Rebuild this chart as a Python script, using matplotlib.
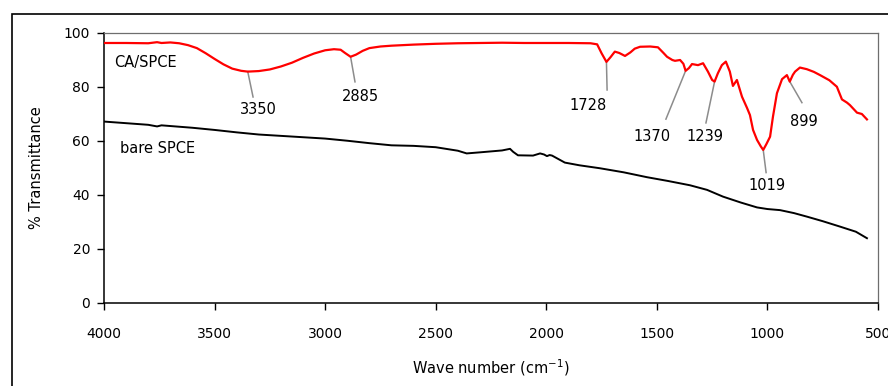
import numpy as np
import matplotlib.pyplot as plt
from matplotlib.patches import Rectangle

# FTIR spectra (wave number in cm-1, % transmittance)
ca_wn = [4000, 3900, 3800, 3760, 3740, 3700, 3660, 3620, 3580, 3540, 3500, 3460,
         3420, 3380, 3350, 3300, 3250, 3200, 3150, 3100, 3050, 3000, 2960, 2930,
         2910, 2885, 2860, 2830, 2800, 2750, 2700, 2600, 2500, 2400, 2300, 2200,
         2100, 2000, 1900, 1800, 1770, 1750, 1728, 1710, 1690, 1670, 1644, 1620,
         1600, 1576, 1530, 1495, 1470, 1454, 1430, 1418, 1395, 1380, 1370, 1355,
         1341, 1314, 1291, 1269, 1250, 1239, 1224, 1206, 1188, 1170, 1156, 1138,
         1115, 1092, 1079, 1065, 1047, 1030, 1019, 1005, 988, 975, 957, 934, 912,
         899, 885, 875, 853, 822, 790, 762, 720, 686, 663, 640, 627, 595, 573, 550]
ca_t = [96.3, 96.3, 96.2, 96.6, 96.3, 96.5, 96.2, 95.5, 94.4, 92.5, 90.4, 88.4,
        86.8, 86.0, 85.7, 85.9, 86.5, 87.6, 89.0, 90.8, 92.4, 93.6, 94.0, 93.8,
        92.6, 91.2, 92.0, 93.4, 94.4, 95.0, 95.3, 95.7, 96.0, 96.2, 96.3, 96.4,
        96.3, 96.3, 96.3, 96.2, 95.8, 92.5, 89.3, 91.0, 93.1, 92.6, 91.5, 92.8,
        94.2, 94.9, 95.0, 94.7, 92.6, 91.2, 90.0, 89.7, 90.0, 88.6, 86.0, 87.0,
        88.5, 88.1, 88.8, 85.7, 82.6, 82.0, 85.1, 88.1, 89.4, 85.7, 80.4, 82.6,
        76.4, 72.2, 69.6, 64.1, 60.4, 58.0, 56.7, 58.8, 61.6, 69.0, 77.7, 82.9, 84.4,
        82.0, 84.5, 85.7, 87.2, 86.6, 85.6, 84.4, 82.5, 80.1, 75.4, 74.2, 73.3, 70.5, 70.0, 68.0]

bare_wn = [4000, 3900, 3800, 3760, 3740, 3600, 3500, 3400, 3300, 3200, 3100, 3000,
           2900, 2800, 2700, 2600, 2500, 2400, 2360, 2300, 2200, 2164, 2150, 2128,
           2060, 2028, 2010, 1997, 1985, 1974, 1916, 1850, 1757, 1650, 1545, 1450,
           1350, 1273, 1201, 1120, 1047, 1000, 943, 880, 822, 750, 672, 600, 550]
bare_t = [67.2, 66.6, 66.0, 65.4, 65.8, 64.9, 64.1, 63.2, 62.4, 61.9, 61.4, 60.9,
          60.1, 59.2, 58.4, 58.2, 57.7, 56.4, 55.4, 55.8, 56.5, 57.1, 56.0, 54.7,
          54.6, 55.4, 55.0, 54.4, 54.8, 54.6, 52.0, 51.0, 49.9, 48.4, 46.6, 45.2,
          43.6, 41.9, 39.4, 37.2, 35.4, 34.8, 34.4, 33.3, 32.0, 30.3, 28.3, 26.4, 24.0]

# labelled bands of CA/SPCE
peaks = [3350, 2885, 1728, 1370, 1239, 1019, 899]
# where each leader line ends and where its label sits
lead_x = [3326, 2865, 1725, 1459, 1278, 1006, 844]
lead_y = [76.3, 81.9, 78.9, 68.1, 66.7, 48.3, 74.2]
label_x = [3300, 2842, 1811, 1522, 1283, 1002, 835]
label_y = [71.5, 76.3, 73.3, 61.5, 61.5, 43.7, 67.1]

fig = plt.figure(figsize=(8.88, 3.86), dpi=100)
ax = fig.add_axes([104 / 888, 1 - 303 / 386, (878 - 104) / 888, (303 - 33) / 386])

ax.plot(ca_wn, ca_t, color="#ff0000", lw=1.6, zorder=3)
ax.plot(bare_wn, bare_t, color="black", lw=1.4, zorder=3)

ax.text(3955, 89, "CA/SPCE", fontsize=10.5, va="center", ha="left")
ax.text(3928, 57.4, "bare SPCE", fontsize=10.5, va="center", ha="left")

wn_inc = ca_wn[::-1]
t_inc = ca_t[::-1]
for p, ex, ey, lx, ly in zip(peaks, lead_x, lead_y, label_x, label_y):
    py = np.interp(p, wn_inc, t_inc)
    ax.plot([p, ex], [py, ey], color="#8c8c8c", lw=1.1, zorder=2)
    ax.text(lx, ly, str(p), ha="center", va="center", fontsize=10.5)

ax.set_xlim(4000, 500)
ax.set_ylim(0, 100)
ax.set_xticks([4000, 3500, 3000, 2500, 2000, 1500, 1000, 500])
ax.set_yticks([0, 20, 40, 60, 80, 100])
ax.tick_params(axis="both", direction="out", length=5, width=1, labelsize=10)
ax.tick_params(axis="x", pad=12)
ax.tick_params(axis="y", pad=5)

for s in ["left", "bottom"]:
    ax.spines[s].set_linewidth(1.1)
    ax.spines[s].set_color("black")
for s in ["top", "right"]:
    ax.spines[s].set_linewidth(0.9)
    ax.spines[s].set_color("#6e6e6e")

ax.set_ylabel("% Transmittance", fontsize=10.5, labelpad=14)
ax.set_xlabel("Wave number (cm$^{-1}$)", fontsize=10.5, labelpad=12)

# chart border, partly cut by the figure edge
fig.patches.append(Rectangle((12 / 888, -0.05), 1.1, 1 - 14 / 386 + 0.05,
                             transform=fig.transFigure, fill=False,
                             edgecolor="black", lw=1.2))

fig.savefig("out.png", dpi=100)
